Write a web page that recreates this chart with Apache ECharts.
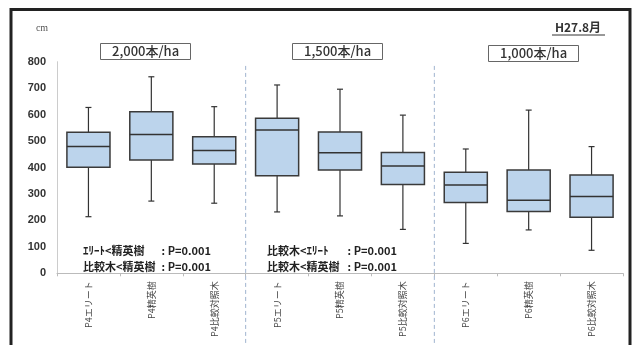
<!DOCTYPE html>
<html><head><meta charset="utf-8">
<script src="https://cdn.jsdelivr.net/npm/echarts@6/dist/echarts.min.js"></script>
<style>html,body{margin:0;padding:0;background:#fff}#c{width:633px;height:345px}</style>
</head><body><div id="c"></div>
<script>
const categories = ['P4エリート','P4精英樹','P4比較対照木','P5エリート','P5精英樹','P5比較対照木','P6エリート','P6精英樹','P6比較対照木'];
const whiskerMax = [627,743,630,712,696,598,470,617,479];
const q3 = [533,611,516,586,534,457,382,391,372];
const median = [479,525,464,542,456,406,334,276,290];
const q1 = [401,428,413,369,391,336,268,234,212];
const whiskerMin = [214,273,265,232,217,166,113,164,87];
const yTicks = [0,100,200,300,400,500,600,700,800];
const groupTitles = ['2,000本/ha','1,500本/ha','1,000本/ha'];
const separators = [2.5, 5.5];

const FONT = "'Liberation Sans','Noto Sans CJK JP',sans-serif";
const JP = "'Noto Sans CJK JP','Liberation Sans',sans-serif";

const chart = echarts.init(document.getElementById('c'), null, {renderer:'canvas'});
const boxData = categories.map((c,i)=>[i, whiskerMin[i], q1[i], median[i], q3[i], whiskerMax[i]]);

function renderBox(params, api){
  const x = api.value(0);
  const pMin = api.coord([x, api.value(1)]);
  const pQ1 = api.coord([x, api.value(2)]);
  const pMed = api.coord([x, api.value(3)]);
  const pQ3 = api.coord([x, api.value(4)]);
  const pMax = api.coord([x, api.value(5)]);
  const band = api.size([1,0])[0];
  const bw = band*0.685;
  const cx = pMed[0];
  const cap = 3;
  const ls = {stroke:'#333', lineWidth:1.2};
  return {type:'group', children:[
    {type:'line', shape:{x1:cx,y1:pMax[1],x2:cx,y2:pQ3[1]}, style:ls},
    {type:'line', shape:{x1:cx,y1:pQ1[1],x2:cx,y2:pMin[1]}, style:ls},
    {type:'line', shape:{x1:cx-cap,y1:pMax[1],x2:cx+cap,y2:pMax[1]}, style:ls},
    {type:'line', shape:{x1:cx-cap,y1:pMin[1],x2:cx+cap,y2:pMin[1]}, style:ls},
    {type:'rect', shape:{x:cx-bw/2,y:pQ3[1],width:bw,height:pQ1[1]-pQ3[1]}, style:{fill:'#bcd4ec', stroke:'#3a3a3a', lineWidth:1.5}},
    {type:'line', shape:{x1:cx-bw/2,y1:pMed[1],x2:cx+bw/2,y2:pMed[1]}, style:{stroke:'#333', lineWidth:1.5}}
  ]};
}

const sepSeries = separators.map(s=>({
  type:'line', xAxisIndex:1, yAxisIndex:0, data:[[s,784],[s,-271]], symbol:'none', clip:false, silent:true,
  lineStyle:{color:'#9fb4cf', width:1, type:[4,3]}, z:1
}));

const titleX = [100, 292, 488];
const titleY = [43, 43, 45];

chart.setOption({
  animation:false,
  backgroundColor:'#fff',
  title: groupTitles.map((t,i)=>({
    text:t, left:titleX[i], top:titleY[i], borderColor:'#666', borderWidth:1, padding:[2,12,2,12],
    textStyle:{fontSize:13, fontWeight:500, color:'#333', fontFamily:JP}
  })),
  grid:{left:57, right:10, top:61.7, bottom:71.7, containLabel:false},
  xAxis:[{
    type:'category', data:categories, boundaryGap:true,
    axisLine:{onZero:false, lineStyle:{color:'#bbb', width:1}},
    axisTick:{show:true, length:3, lineStyle:{color:'#bbb'}},
    axisLabel:{rotate:90, fontSize:9, color:'#444', margin:8, fontFamily:JP, interval:0},
    splitLine:{show:false}
  },{
    type:'value', min:-0.5, max:8.5, show:false
  }],
  yAxis:{
    type:'value', min:0, max:800, interval:100,
    axisLine:{show:true, onZero:false, lineStyle:{color:'#ccc'}},
    axisTick:{show:false},
    splitLine:{show:false},
    axisLabel:{fontSize:11, fontWeight:'bold', color:'#333', margin:11, fontFamily:FONT,
      formatter:(v)=> yTicks.includes(v) ? String(v) : ''}
  },
  graphic:[
    {type:'rect', shape:{x:11, y:9.5, width:619, height:345}, style:{fill:'none', stroke:'#222', lineWidth:3}, silent:true},
    {type:'text', x:42, y:28, style:{text:'cm', font:"10px 'Liberation Serif',serif", fill:'#555', align:'center', verticalAlign:'middle'}},
    {type:'text', x:578, y:27, style:{text:'H27.8月', font:"bold 12px "+JP, fill:'#333', align:'center', verticalAlign:'middle'}},
    {type:'line', shape:{x1:552, y1:35, x2:605, y2:35}, style:{stroke:'#333', lineWidth:1}},
    {type:'text', x:83, y:251, style:{text:'ｴﾘｰﾄ<精英樹', font:"bold 11px "+JP, fill:'#222', verticalAlign:'middle'}},
    {type:'text', x:211, y:251, style:{text:': P=0.001', font:"bold 11px "+JP, fill:'#222', align:'right', verticalAlign:'middle'}},
    {type:'text', x:83, y:266.5, style:{text:'比較木<精英樹', font:"bold 11px "+JP, fill:'#222', verticalAlign:'middle'}},
    {type:'text', x:211, y:266.5, style:{text:': P=0.001', font:"bold 11px "+JP, fill:'#222', align:'right', verticalAlign:'middle'}},
    {type:'text', x:267, y:251, style:{text:'比較木<ｴﾘｰﾄ', font:"bold 11px "+JP, fill:'#222', verticalAlign:'middle'}},
    {type:'text', x:397, y:251, style:{text:': P=0.001', font:"bold 11px "+JP, fill:'#222', align:'right', verticalAlign:'middle'}},
    {type:'text', x:267, y:266.5, style:{text:'比較木<精英樹', font:"bold 11px "+JP, fill:'#222', verticalAlign:'middle'}},
    {type:'text', x:397, y:266.5, style:{text:': P=0.001', font:"bold 11px "+JP, fill:'#222', align:'right', verticalAlign:'middle'}}
  ],
  series:[{
    type:'custom', renderItem:renderBox, data:boxData, encode:{x:0, y:[1,2,3,4,5]}, z:2, clip:false
  }].concat(sepSeries)
});
</script></body></html>
